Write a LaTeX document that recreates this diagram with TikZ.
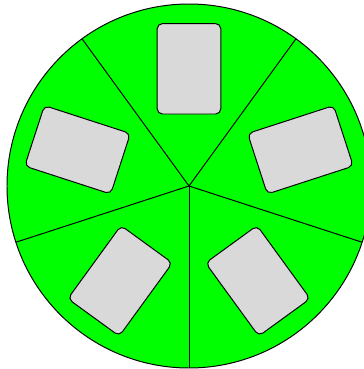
\documentclass[tikz,border=0pt]{standalone}
\usepackage{tikz}
\definecolor{wheelgreen}{RGB}{0,255,0}

\begin{document}
\begin{tikzpicture}[card/.style={draw, line width=0.7pt, fill=gray!30, rounded corners=0.13cm,
		minimum width=1.59cm, minimum height=2.26cm, inner sep=0pt}]

		% Fix the margins of the picture
		\useasboundingbox (-4.725,-4.575) rectangle (4.375,4.65);

		% The green wheel
		\coordinate (c) at (0,0);
		\draw[line width=0.7pt, fill=wheelgreen] (c) circle (4.55);

		% Spokes between the sectors
		\foreach \a [count=\i] in {-90,-18,54,126,198}
			\draw[line width=0.7pt] (c) -- (\a:4.55) coordinate (rim\i);

		% One card in every sector
		\foreach \a [count=\i] in {90,18,-54,234,162}
			\node[card, rotate=\a-90] (card\i) at (\a:2.93) {};
	\end{tikzpicture}
\end{document}
